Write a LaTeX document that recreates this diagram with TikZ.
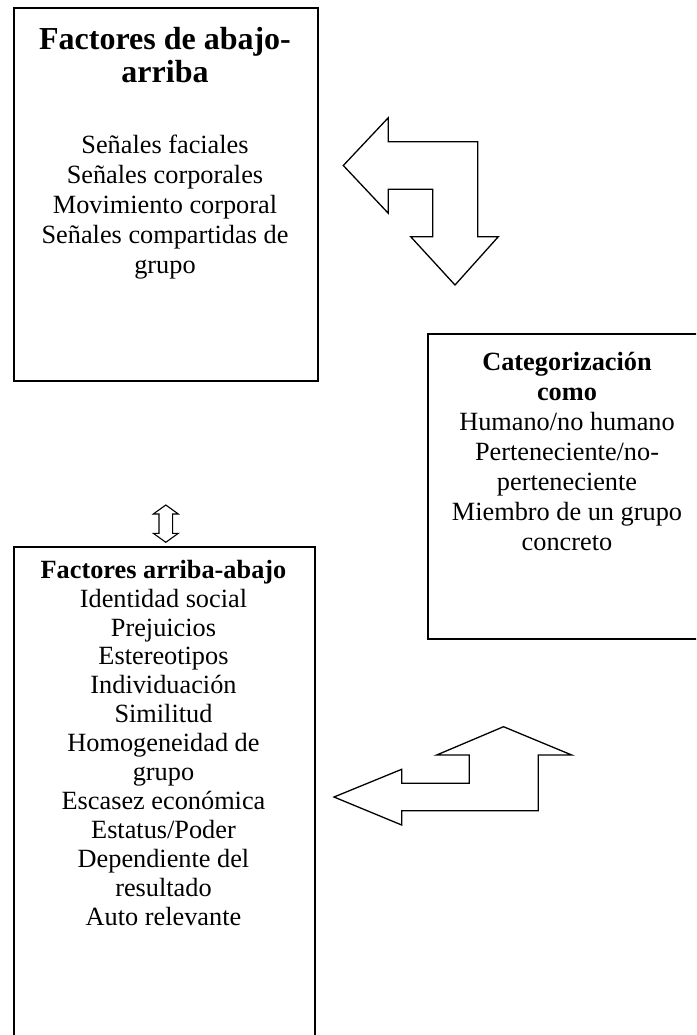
\documentclass[tikz,border=0pt]{standalone}
\usepackage{fontspec}
\setmainfont{Liberation Serif}
\begin{document}
\begin{tikzpicture}[x=1pt,y=-1pt,
  box/.style={draw, line width=1.8pt, inner sep=0pt, anchor=north west},
  blockarrow/.style={draw, line width=1.3pt, line join=miter},
  bodytext/.style={align=center, anchor=base, inner sep=0pt, font=\fontsize{26.3}{30}\selectfont},
  titletext/.style={align=center, anchor=base, inner sep=0pt, font=\bfseries\fontsize{32}{33.5}\selectfont}]
\clip (0,0) rectangle (696,1035);
% boxes
\node[box, minimum width=303.4pt, minimum height=372.7pt] (b1) at (13.3,7.3) {};
\node[box, minimum width=283pt, minimum height=305pt] (b2) at (427,333) {};
\node[box, minimum width=301pt, minimum height=500pt] (b3) at (13.3,546) {};
% box 1 text (anchor base = baseline of last line)
\node[titletext] (t1) at (165,83) {Factores de abajo-\\arriba};
\node[bodytext] (l1) at (165,273) {Señales faciales\\Señales corporales\\Movimiento corporal\\Señales compartidas de\\grupo};
% box 2 text
\node[bodytext] (l2) at (567,550) {\textbf{Categorización}\\\textbf{como}\\Humano/no humano\\Perteneciente/no-\\perteneciente\\Miembro de un grupo\\concreto};
% box 3 text
\node[bodytext, font=\fontsize{26.3}{28.9}\selectfont] (l3) at (163.5,925) {\textbf{Factores arriba-abajo}\\Identidad social\\Prejuicios\\Estereotipos\\Individuación\\Similitud\\Homogeneidad de\\grupo\\Escasez económica\\Estatus/Poder\\Dependiente del\\resultado\\Auto relevante};
% bent arrow 1 (left and down)
\draw[blockarrow] (343.3,165.5) -- (388.3,117.7) -- (388.3,141.7) -- (477.7,141.7) -- (477.7,236.7) -- (498.3,236.7) -- (455,285) -- (410.7,236.7) -- (432.7,236.7) -- (432.7,189.3) -- (388.3,189.3) -- (388.3,213.3) -- cycle;
% bent arrow 2 (left and up)
\draw[blockarrow] (334,797) -- (401.7,769.3) -- (401.7,783.3) -- (469.3,783.3) -- (469.3,755) -- (436.7,755) -- (503.5,726.7) -- (571.7,755) -- (538.3,755) -- (538.3,810.7) -- (401.7,810.7) -- (401.7,825) -- cycle;
% small up-down arrow
\draw[blockarrow, line width=1.1pt] (165.8,505) -- (178.3,514) -- (172.6,514) -- (172.6,533.3) -- (178.3,533.3) -- (165.8,542.3) -- (153.3,533.3) -- (159,533.3) -- (159,514) -- (153.3,514) -- cycle;
\end{tikzpicture}
\end{document}
